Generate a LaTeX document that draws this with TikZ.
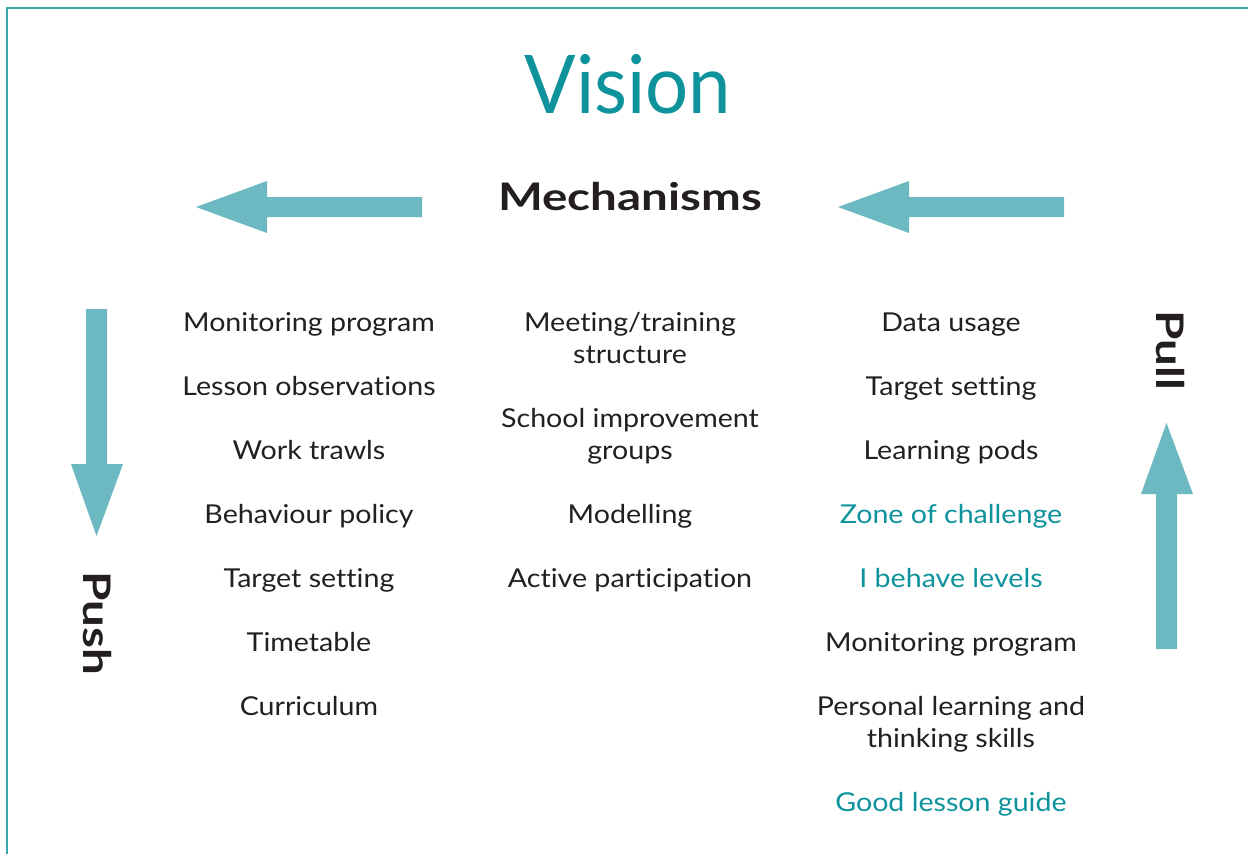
\documentclass[tikz,border=0pt]{standalone}
\usepackage{fontspec}
\setmainfont{Lato}
\newfontfamily\itemfont[FakeStretch=1.1, Ligatures=NoCommon]{Lato}
\newfontfamily\headfont[FakeStretch=1.25]{Lato}
\newfontfamily\titlefont[FakeStretch=0.94]{Lato}
\definecolor{visionteal}{RGB}{14,146,156}
\definecolor{arrowteal}{RGB}{108,185,194}
\definecolor{frameteal}{RGB}{58,166,174}
\definecolor{inkblack}{RGB}{35,31,32}
\tikzset{
    mech/.style={anchor=base, align=center, inner sep=0pt, text=inkblack,
        font=\itemfont\fontsize{26}{32}\selectfont},
    hilite/.style={mech, text=visionteal},
    heading/.style={anchor=base, inner sep=0pt, text=inkblack,
        font=\headfont\bfseries\fontsize{38}{40}\selectfont},
    bigarrow/.style={fill=arrowteal, draw=none}
}

\begin{document}
\begin{tikzpicture}[x=1pt,y=-1pt]
    \useasboundingbox (0,0) rectangle (1248,854);
    \draw[frameteal, line width=2pt] (7,854) -- (7,7.8) -- (1248,7.8);

    % titles
    \node[anchor=base, inner sep=0pt, text=visionteal,
        font=\titlefont\fontsize{81}{90}\selectfont] (vision) at (628,113) {Vision};
    \node[heading] (mechanisms) at (630,210) {Mechanisms};
    \node[heading, anchor=center, rotate=-90] (push) at (97,623) {Push};
    \node[heading, anchor=center, rotate=-90] (pull) at (1170,350) {Pull};

    % arrows
    \foreach \dx in {0,642}
        \fill[bigarrow, xshift=\dx] (196,207) -- (267,181) -- (267,197) -- (422,197)
            -- (422,217) -- (267,217) -- (267,233) -- cycle;
    \fill[bigarrow] (96.5,536) -- (71,464) -- (86,464) -- (86,309) -- (107,309)
        -- (107,464) -- (123,464) -- cycle;
    \fill[bigarrow] (1166.5,423) -- (1193,494) -- (1177,494) -- (1177,649)
        -- (1156,649) -- (1156,494) -- (1141,494) -- cycle;

    % push column
    \foreach \txt [count=\i] in {Monitoring program, Lesson observations, Work trawls,
        Behaviour policy, Target setting, Timetable, Curriculum}
        \node[mech] (push-\i) at (309,{331+64*(\i-1)}) {\txt};

    % middle column (two-line nodes sit on their last line)
    \node[mech] (mid-1) at (630,363) {Meeting/training\\structure};
    \node[mech] (mid-2) at (630,459) {School improvement\\groups};
    \node[mech] (mid-3) at (630,523) {Modelling};
    \node[mech] (mid-4) at (630,587) {Active participation};

    % pull column
    \node[mech] (pull-1) at (951,331) {Data usage};
    \node[mech] (pull-2) at (951,395) {Target setting};
    \node[mech] (pull-3) at (951,459) {Learning pods};
    \node[hilite] (pull-4) at (951,523) {Zone of challenge};
    \node[hilite] (pull-5) at (951,587) {I behave levels};
    \node[mech] (pull-6) at (951,651) {Monitoring program};
    \node[mech] (pull-7) at (951,747) {Personal learning and\\thinking skills};
    \node[hilite] (pull-8) at (951,811) {Good lesson guide};
\end{tikzpicture}
\end{document}
